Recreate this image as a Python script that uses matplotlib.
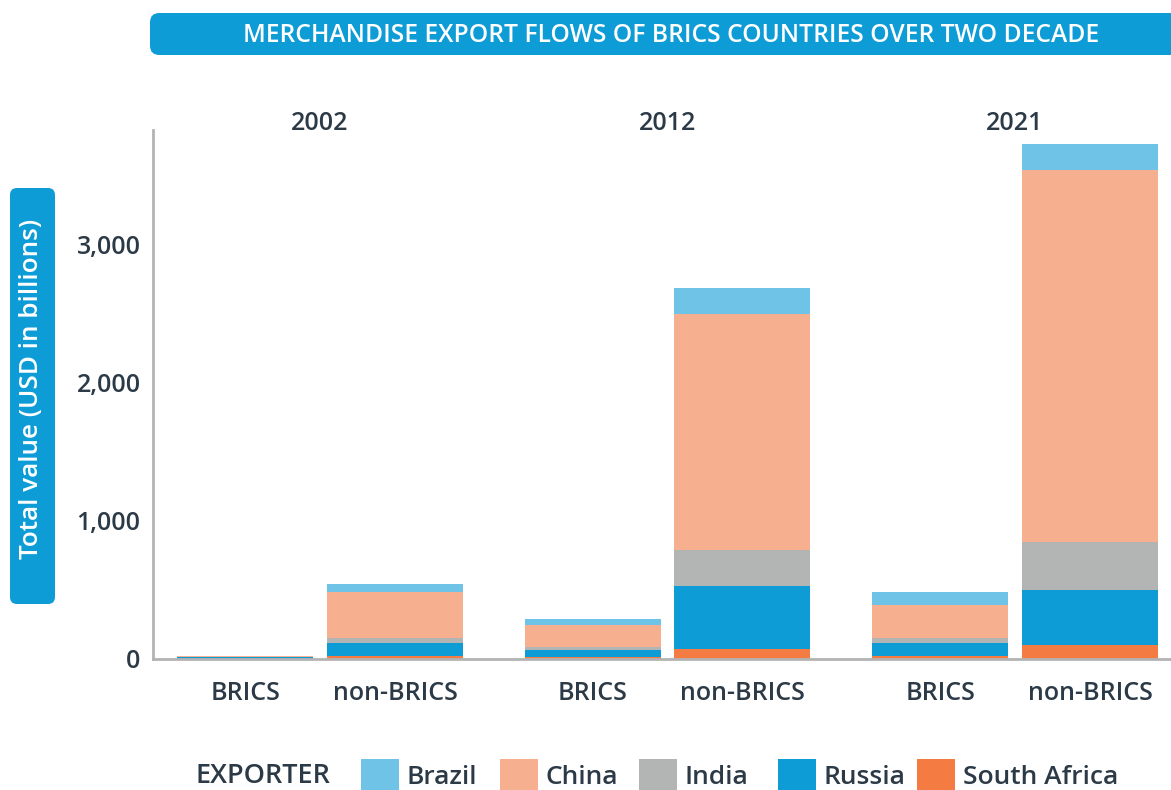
import matplotlib.pyplot as plt
import numpy as np
from matplotlib.patches import FancyBboxPatch
from matplotlib.transforms import blended_transform_factory

plt.rcParams['font.family'] = ['Open Sans', 'DejaVu Sans']

years = ['2002', '2012', '2021']
partners = ['BRICS', 'non-BRICS']
exporters = ['South Africa', 'Russia', 'India', 'China', 'Brazil']
# values per bar: 2002 BRICS, 2002 non-BRICS, 2012 BRICS, 2012 non-BRICS, 2021 BRICS, 2021 non-BRICS
south_africa = [2, 22, 14, 72, 24, 101]
russia = [9, 94, 51, 457, 92, 399]
india = [2, 36, 22, 261, 38, 348]
china = [8, 334, 159, 1710, 237, 2695]
brazil = [1, 57, 44, 188, 95, 189]

colors = {'Brazil': '#6FC3E7', 'China': '#F7B08F', 'India': '#B3B4B4',
          'Russia': '#0E9CD7', 'South Africa': '#F47B42'}
txt = '#2B3A46'

fig = plt.figure(figsize=(11.71, 7.90), dpi=100)
ax = fig.add_axes([153/1171, 1-659/790, 1-153/1171, (659-130)/790])

# bar positions (units of bar width)
gs = 2.555
off = 0.551
xpos = []
for g in range(3):
    xpos += [g*gs - off, g*gs + off]
xpos = np.array(xpos)

bottom = np.zeros(6)
series = {'South Africa': south_africa, 'Russia': russia, 'India': india,
          'China': china, 'Brazil': brazil}
handles = {}
for name in exporters:
    vals = np.array(series[name])
    b = ax.bar(xpos, vals, 1.0, bottom=bottom, color=colors[name], label=name, linewidth=0)
    handles[name] = b
    bottom += vals

ax.set_xlim(-1.228, 6.257)
ax.set_ylim(0, 3833)
ax.set_yticks([0, 1000, 2000, 3000])
ax.set_yticklabels(['0', '1,000', '2,000', '3,000'])
ax.set_xticks(xpos)
ax.set_xticklabels(partners*3)
ax.tick_params(axis='x', length=0, labelsize=18, colors=txt, pad=16)
ax.tick_params(axis='y', length=0, labelsize=18, colors=txt, pad=9)
for lab in ax.get_xticklabels() + ax.get_yticklabels():
    lab.set_fontweight('semibold')
for s in ['top', 'right']:
    ax.spines[s].set_visible(False)
for s in ['left', 'bottom']:
    ax.spines[s].set_color('#B3B3B3')
    ax.spines[s].set_linewidth(2)

trans = blended_transform_factory(ax.transData, fig.transFigure)
for g, y in enumerate(years):
    ax.text(g*gs, 1-124/790, y, transform=trans, ha='center', va='center',
            fontsize=18, fontweight='semibold', color=txt)

# title banner
fig.patches.append(FancyBboxPatch((150/1171, 1-55/790), 1100/1171, 42/790,
                                  boxstyle='round,pad=0,rounding_size=0.008',
                                  transform=fig.transFigure, facecolor='#0E9CD7',
                                  edgecolor='none', mutation_aspect=1171/790))
fig.text(671/1171, 1-35/790, 'MERCHANDISE EXPORT FLOWS OF BRICS COUNTRIES OVER TWO DECADE',
         ha='center', va='center', color='white', fontsize=17.7, fontweight='semibold')

# y label banner
fig.patches.append(FancyBboxPatch((10/1171, 1-604/790), 45/1171, 416/790,
                                  boxstyle='round,pad=0,rounding_size=0.006',
                                  transform=fig.transFigure, facecolor='#0E9CD7',
                                  edgecolor='none', mutation_aspect=1171/790))
fig.text(32/1171, 1-389/790, 'Total value (USD in billions)', rotation=90,
         ha='center', va='center', color='white', fontsize=18.8, fontweight='semibold')

# legend: fixed column grid
fig.text(195/1171, 1-776/790, 'EXPORTER', ha='left', va='center', color=txt,
         fontsize=19.5, fontweight='semibold')
order = ['Brazil', 'China', 'India', 'Russia', 'South Africa']
for i, n in enumerate(order):
    leg = fig.legend([handles[n]], [n], loc='center left',
                     bbox_to_anchor=((361 + 139*i)/1171, 1-775/790), frameon=False,
                     fontsize=19, handlelength=1.44, handleheight=1.44,
                     handletextpad=0.3, borderpad=0, borderaxespad=0)
    for t in leg.get_texts():
        t.set_color(txt)
        t.set_fontweight('semibold')

fig.savefig('out.png', dpi=100)
